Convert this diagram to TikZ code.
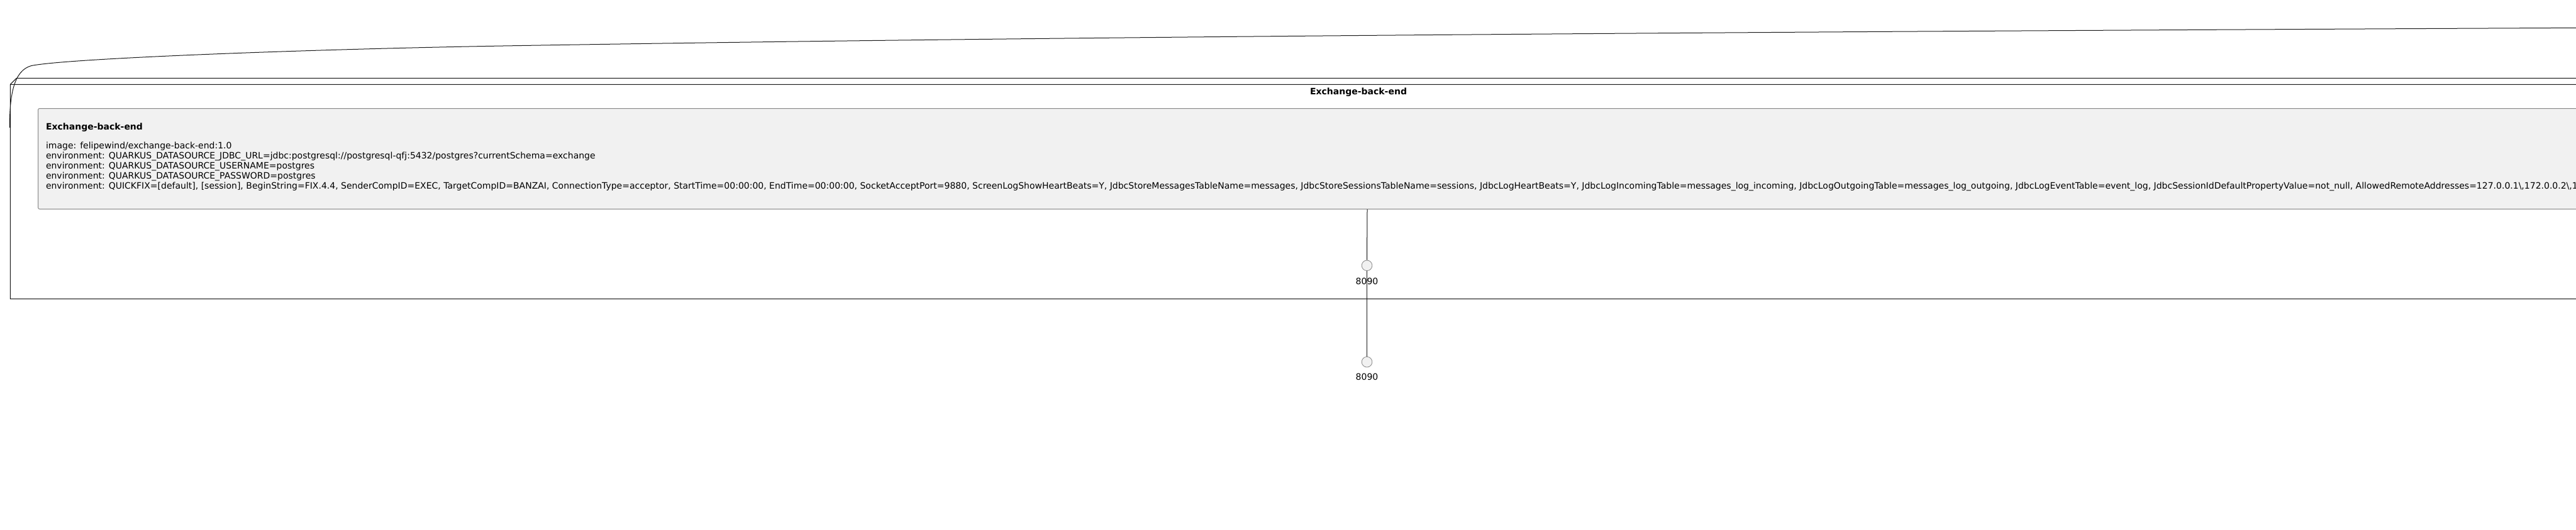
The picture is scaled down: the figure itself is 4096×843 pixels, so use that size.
\documentclass[tikz,border=0pt]{standalone}
\usepackage{fontspec}
\setmainfont{DejaVu Sans}
\definecolor{boxfill}{HTML}{F1F1F1}
\definecolor{boxline}{HTML}{888888}
\definecolor{ink}{HTML}{181818}
\begin{document}
\begin{tikzpicture}[x=1pt,y=-1pt,
  framestyle/.style={draw=ink, line width=1pt, line join=miter},
  boxstyle/.style={draw=boxline, fill=boxfill, rounded corners=2.5pt, line width=1pt, inner sep=0pt},
  portstyle/.style={circle, draw=boxline, fill=boxfill, minimum size=16.6pt, inner sep=0pt, line width=0.8pt},
  txt/.style={font=\fontsize{14}{15.9}\selectfont, inner sep=0pt, text=black},
  ttl/.style={font=\fontsize{14}{16}\selectfont\bfseries, inner sep=0pt, text=black},
  link/.style={draw=ink, line width=1pt}]
\useasboundingbox (0,0) rectangle (4096,843);
\fill[white] (0,0) rectangle (4096,843);
\clip (0,0) rectangle (4096,843);

% outer node frame (3D box)
\draw[framestyle] (16.3,475.3) -- (16.3,134.3) -- (26.3,124.3) -- (4340,124.3) -- (4340,465.3) -- (4330,475.3) -- cycle;
\draw[framestyle] (16.3,134.3) -- (4330,134.3) -- (4340,124.3);
\draw[framestyle] (4330,134.3) -- (4330,475.3);
\node[ttl, anchor=base] (frametitle) at (2160,150.7) {Exchange-back-end};

% container box
\node[boxstyle, anchor=north west, minimum width=4227pt, minimum height=160pt] (container) at (60,172) {};
\node[ttl, anchor=base west] (ctitle) at (72.8,206) {Exchange-back-end};
\node[txt, anchor=base west] (l1) at (72.8,236.5) {image: felipewind/exchange-back-end:1.0};
\node[txt, anchor=base west] (l2) at (72.8,252.4) {environment: QUARKUS\_DATASOURCE\_JDBC\_URL=jdbc:postgresql://postgresql-qfj:5432/postgres?currentSchema=exchange};
\node[txt, anchor=base west] (l3) at (72.8,268.3) {environment: QUARKUS\_DATASOURCE\_USERNAME=postgres};
\node[txt, anchor=base west] (l4) at (72.8,284.2) {environment: QUARKUS\_DATASOURCE\_PASSWORD=postgres};
\node[txt, anchor=base west] (l5) at (72.8,300.1) {environment: QUICKFIX=[default], [session], BeginString=FIX.4.4, SenderCompID=EXEC, TargetCompID=BANZAI, ConnectionType=acceptor, StartTime=00:00:00, EndTime=00:00:00, SocketAcceptPort=9880, ScreenLogShowHeartBeats=Y, JdbcStoreMessagesTableName=messages, JdbcStoreSessionsTableName=sessions, JdbcLogHeartBeats=Y, JdbcLogIncomingTable=messages\_log\_incoming, JdbcLogOutgoingTable=messages\_log\_outgoing, JdbcLogEventTable=event\_log, JdbcSessionIdDefaultPropertyValue=not\_null, AllowedRemoteAddresses=127.0.0.1\textbackslash,172.0.0.2\textbackslash,172};

% ports
\node[portstyle] (port1) at (2173.5,422.3) {};
\node[txt, anchor=base] (port1lbl) at (2173.5,452.3) {8090};
\node[portstyle] (port2) at (2173.5,575.7) {};
\node[txt, anchor=base] (port2lbl) at (2173.5,604) {8090};

\draw[link] (container.south) -- (port1.north);
\draw[link] (port1.south) -- (port2.north);

% long connector leaving to the right
\coordinate (linkA) at (15.3,203);
\coordinate (linkB) at (4096,44.3);
\draw[link] (linkA) .. controls (15.3,150) and (22,112) .. (50,104.5)
  .. controls (110,92.5) and (500,78.1) .. (800,73)
  .. controls (1800,56) and (3096,49.3) .. (linkB);
\end{tikzpicture}
\end{document}
